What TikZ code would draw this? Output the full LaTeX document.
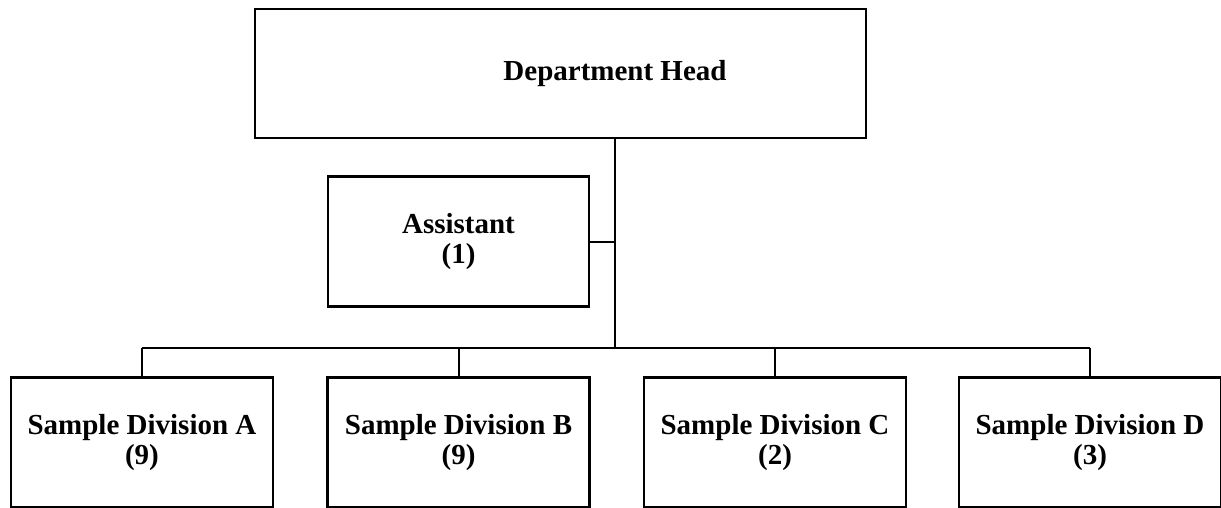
\documentclass[tikz,border=0pt]{standalone}
\usepackage{fontspec}
\setmainfont{Liberation Serif}

\begin{document}
\begin{tikzpicture}
[-,line width=2pt,x=1pt,y=-1pt,%
  every node/.style={shape=rectangle,draw,line width=2.2pt,align=center,inner sep=0pt,%
    font=\bfseries\fontsize{29}{30}\selectfont},%
  division/.style={minimum width=262pt,minimum height=130pt}]
\useasboundingbox (0,0) rectangle (1221,508);
\node (head) at (560.5,73.5) [minimum width=611pt,minimum height=129pt] {\hspace*{109pt}Department Head};
%%
\node (assistant) at (458.5,241.5) [minimum width=261pt,minimum height=130pt] {Assistant\\(1)};
%%
\node[division] (divA) at (142,442.5) {Sample Division A\\(9)};
\node[division] (divB) at (458.5,442.5) {Sample Division B\\(9)};
\node[division] (divC) at (775,442.5) {Sample Division C\\(2)};
\node[division] (divD) at (1090,442.5) {Sample Division D\\(3)};
%%
\coordinate (stem) at (615,348);
\draw (head.south -| stem) -- (stem);
\draw (assistant.east) -- (assistant.east -| stem);
\draw (divA.north |- stem) -- (divD.north |- stem);
\foreach \divNode in {divA, divB, divC, divD}
{
  \draw (\divNode.north |- stem) -- (\divNode.north);
}
\end{tikzpicture}
\end{document}
